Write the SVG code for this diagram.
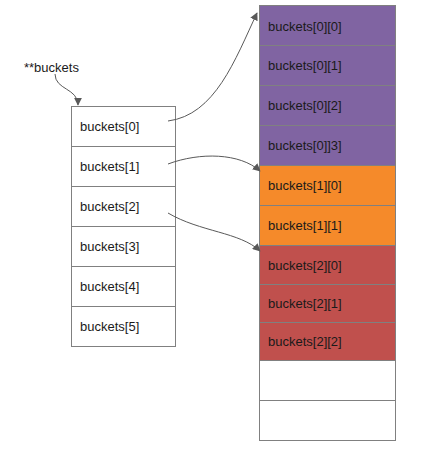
<svg xmlns="http://www.w3.org/2000/svg" width="440" height="453" viewBox="0 0 440 453">
<style>
text{font-family:"Liberation Sans",Arial,sans-serif;font-size:13px;fill:#1a1a1a;dominant-baseline:central}
.cell{stroke:#808080;stroke-width:1}
.w{fill:#ffffff}
.p{fill:#8064a2}
.o{fill:#f58a2a}
.r{fill:#c0504d}
.conn{fill:none;stroke:#595959;stroke-width:1}
</style>
<defs>
<marker id="ah" viewBox="0 0 10 10" refX="9" refY="5" markerWidth="8" markerHeight="8" orient="auto" markerUnits="userSpaceOnUse">
<path d="M0,0 L10,5 L0,10 z" fill="#595959"/>
</marker>
</defs>
<rect width="440" height="453" fill="#ffffff"/>
<g id="label-buckets"><text x="24" y="67">**buckets</text></g>
<g id="left-array">
<g id="b0"><rect class="cell w" x="71.5" y="106.5" width="104" height="40"/><text x="80" y="126">buckets[0]</text></g>
<g id="b1"><rect class="cell w" x="71.5" y="146.5" width="104" height="40"/><text x="80" y="166">buckets[1]</text></g>
<g id="b2"><rect class="cell w" x="71.5" y="186.5" width="104" height="40"/><text x="80" y="206">buckets[2]</text></g>
<g id="b3"><rect class="cell w" x="71.5" y="226.5" width="104" height="40"/><text x="80" y="246">buckets[3]</text></g>
<g id="b4"><rect class="cell w" x="71.5" y="266.5" width="104" height="40"/><text x="80" y="286">buckets[4]</text></g>
<g id="b5"><rect class="cell w" x="71.5" y="306.5" width="104" height="40"/><text x="80" y="326">buckets[5]</text></g>
</g>
<g id="right-array">
<g id="b00"><rect class="cell p" x="259.5" y="5.5" width="136" height="40"/><text x="268" y="26">buckets[0][0]</text></g>
<g id="b01"><rect class="cell p" x="259.5" y="45.5" width="136" height="40"/><text x="268" y="65">buckets[0][1]</text></g>
<g id="b02"><rect class="cell p" x="259.5" y="85.5" width="136" height="40"/><text x="268" y="105">buckets[0][2]</text></g>
<g id="b03"><rect class="cell p" x="259.5" y="125.5" width="136" height="40"/><text x="268" y="145">buckets[0]]3]</text></g>
<g id="b10"><rect class="cell o" x="259.5" y="165.5" width="136" height="40"/><text x="268" y="185">buckets[1][0]</text></g>
<g id="b11"><rect class="cell o" x="259.5" y="205.5" width="136" height="40"/><text x="268" y="225">buckets[1][1]</text></g>
<g id="b20"><rect class="cell r" x="259.5" y="245.5" width="136" height="39"/><text x="268" y="265">buckets[2][0]</text></g>
<g id="b21"><rect class="cell r" x="259.5" y="284.5" width="136" height="38"/><text x="268" y="303">buckets[2][1]</text></g>
<g id="b22"><rect class="cell r" x="259.5" y="322.5" width="136" height="38"/><text x="268" y="341">buckets[2][2]</text></g>
<g id="e1"><rect class="cell w" x="259.5" y="360.5" width="136" height="40"/></g>
<g id="e2"><rect class="cell w" x="259.5" y="400.5" width="136" height="40"/></g>
</g>
<g id="connectors">
<path class="conn" d="M55,74 C55,90 78,88 78,105" marker-end="url(#ah)"/>
<path class="conn" d="M168,121 C215,115 235,60 257,13" marker-end="url(#ah)"/>
<path class="conn" d="M168,164 C200,152 240,153 260,171" marker-end="url(#ah)"/>
<path class="conn" d="M168,213 C200,232 240,232 260,251" marker-end="url(#ah)"/>
</g>
</svg>
